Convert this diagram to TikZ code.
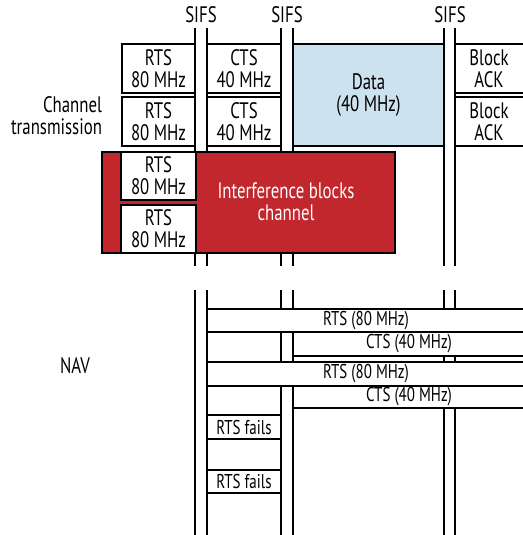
\documentclass[tikz,border=0pt]{standalone}
\usepackage{fontspec}
\setmainfont{PT Sans}[FakeStretch=0.75]
\definecolor{dataBlue}{RGB}{204,226,239}
\definecolor{jamRed}{RGB}{193,39,45}

\tikzset{every picture/.style={line width=1.5pt}}
\tikzset{
  slotbox/.style={draw=black, fill=white},
  lbl/.style={inner sep=0.75pt, align=center, font=\fontsize{16.8}{16.4}\selectfont},
  navlbl/.style={inner sep=0.75pt, align=center, font=\fontsize{15}{15}\selectfont},
}

\begin{document}
\begin{tikzpicture}[x=0.75pt,y=0.75pt,yscale=-1,xscale=1]
	\useasboundingbox (0,0) rectangle (523,535);

	%Straight Lines: SIFS guides, upper part
	\draw    (195,28) -- (195,266) ;
	\draw    (207,28) -- (207,266) ;
	\draw    (281,28) -- (281,266) ;
	\draw    (293,28) -- (293,266) ;
	\draw    (444,28) -- (444,266) ;
	\draw    (455,28) -- (455,266) ;
	%Straight Lines: SIFS guides, NAV part
	\draw    (195,290) -- (195,535) ;
	\draw    (207,290) -- (207,535) ;
	\draw    (281,290) -- (281,535) ;
	\draw    (293,290) -- (293,535) ;
	\draw    (444,290) -- (444,535) ;
	\draw    (455,290) -- (455,535) ;

	%Shape: Rectangle, RTS row 1
	\draw  [slotbox] (122,44) -- (195,44) -- (195,93) -- (122,93) -- cycle ;
	%Shape: Rectangle, CTS row 1
	\draw  [slotbox] (207,44) -- (281,44) -- (281,93) -- (207,93) -- cycle ;
	%Shape: Rectangle, Block ACK row 1
	\draw  [slotbox] (530,44) -- (455,44) -- (455,93) -- (530,93) ;
	%Shape: Rectangle, RTS row 2
	\draw  [slotbox] (122,97) -- (195,97) -- (195,146) -- (122,146) -- cycle ;
	%Shape: Rectangle, CTS row 2
	\draw  [slotbox] (207,97) -- (281,97) -- (281,146) -- (207,146) -- cycle ;
	%Shape: Rectangle, Block ACK row 2
	\draw  [slotbox] (530,97) -- (455,97) -- (455,146) -- (530,146) ;
	%Shape: Rectangle, Data
	\draw  [draw=black, fill=dataBlue] (293,44) -- (444,44) -- (444,146) -- (293,146) -- cycle ;

	%Shape: Rectangle, interference
	\draw  [draw=black, fill=jamRed] (102,152) -- (395,152) -- (395,253) -- (102,253) -- cycle ;
	%Shape: Rectangle, blocked RTS 1
	\draw  [slotbox] (121,152) -- (196,152) -- (196,200) -- (121,200) -- cycle ;
	%Shape: Rectangle, blocked RTS 2
	\draw  [slotbox] (121,205) -- (196,205) -- (196,253) -- (121,253) -- cycle ;

	%Shape: Rectangle, NAV RTS 1
	\draw  [slotbox] (530,309) -- (207,309) -- (207,332) -- (530,332) ;
	%Shape: Rectangle, NAV CTS 1
	\draw  [slotbox] (530,332) -- (293,332) -- (293,356) -- (530,356) ;
	%Shape: Rectangle, NAV RTS 2
	\draw  [slotbox] (530,362) -- (207,362) -- (207,386) -- (530,386) ;
	%Shape: Rectangle, NAV CTS 2
	\draw  [slotbox] (530,386) -- (293,386) -- (293,408) -- (530,408) ;
	%Shape: Rectangle, RTS fails 1
	\draw  [slotbox] (207,415) -- (281,415) -- (281,439) -- (207,439) -- cycle ;
	%Shape: Rectangle, RTS fails 2
	\draw  [slotbox] (207,470) -- (281,470) -- (281,493) -- (207,493) -- cycle ;

	% Text Node
	\draw (201,15) node [lbl] (sifsA) {SIFS};
	% Text Node
	\draw (287,15) node [lbl] (sifsB) {SIFS};
	% Text Node
	\draw (450,15) node [lbl] (sifsC) {SIFS};
	% Text Node
	\draw (104,115.5) node [lbl, anchor=east, align=right] (chanLabel) {Channel\\transmission};
	% Text Node
	\draw (158.5,68.5) node [lbl] (rtsA) {RTS\\80 MHz};
	% Text Node
	\draw (244,68.5) node [lbl] (ctsA) {CTS\\40 MHz};
	% Text Node
	\draw (489,68.5) node [lbl] (ackA) {Block\\ACK};
	% Text Node
	\draw (158.5,121.5) node [lbl] (rtsB) {RTS\\80 MHz};
	% Text Node
	\draw (244,121.5) node [lbl] (ctsB) {CTS\\40 MHz};
	% Text Node
	\draw (489,121.5) node [lbl] (ackB) {Block\\ACK};
	% Text Node
	\draw (368.5,95) node [lbl] (dataLabel) {Data\\(40 MHz)};
	% Text Node
	\draw (158.5,176) node [lbl] (rtsC) {RTS\\80 MHz};
	% Text Node
	\draw (158.5,229) node [lbl] (rtsD) {RTS\\80 MHz};
	% Text Node
	\draw (286,202) node [lbl, text=white] (jamLabel) {Interference blocks\\channel};

	% Text Node
	\draw (75,366) node [lbl] (navLabel) {NAV};
	% Text Node
	\draw (366,320.5) node [navlbl] (navRtsA) {RTS (80 MHz)};
	% Text Node
	\draw (409,344) node [navlbl] (navCtsA) {CTS (40 MHz)};
	% Text Node
	\draw (366,374) node [navlbl] (navRtsB) {RTS (80 MHz)};
	% Text Node
	\draw (409,397) node [navlbl] (navCtsB) {CTS (40 MHz)};
	% Text Node
	\draw (244,427) node [navlbl] (failA) {RTS fails};
	% Text Node
	\draw (244,481.5) node [navlbl] (failB) {RTS fails};

\end{tikzpicture}
\end{document}
